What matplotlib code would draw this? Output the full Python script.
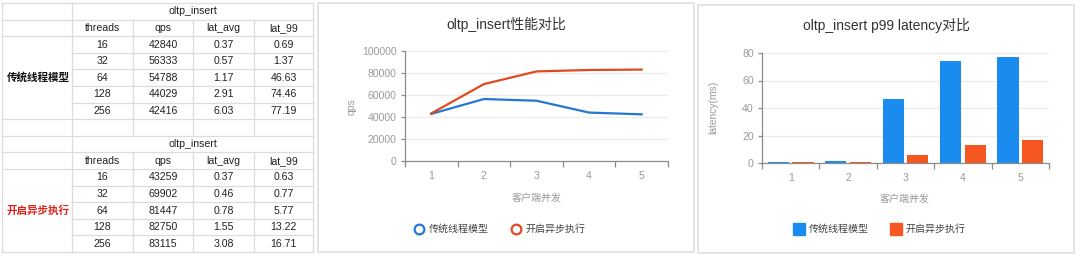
import numpy as np
import matplotlib
matplotlib.use('Agg')
import matplotlib.pyplot as plt
from matplotlib.lines import Line2D
from matplotlib.patches import Rectangle

plt.rcParams['font.family'] = ['Liberation Sans', 'Noto Sans CJK SC']

# data from the two sysbench runs
threads = [16, 32, 64, 128, 256]
columns = ['threads', 'qps', 'lat_avg', 'lat_99']
series_names = ['传统线程模型', '开启异步执行']
qps_old = [42840, 56333, 54788, 44029, 42416]
lat_avg_old = ['0.37', '0.57', '1.17', '2.91', '6.03']
lat_99_old = [0.69, 1.37, 46.63, 74.46, 77.19]
qps_async = [43259, 69902, 81447, 82750, 83115]
lat_avg_async = ['0.37', '0.46', '0.78', '1.55', '3.08']
lat_99_async = [0.63, 0.77, 5.77, 13.22, 16.71]
x_labels = ['1', '2', '3', '4', '5']

blue_line = '#2478d2'
red_line = '#df4a1f'
blue_bar = '#1a8cf0'
red_bar = '#f6561f'
grey_txt = '#9a9a9a'

W, H = 1080, 258
fig = plt.figure(figsize=(W / 100, H / 100), dpi=100)
bg = fig.add_axes([0, 0, 1, 1])
bg.set_xlim(0, W)
bg.set_ylim(H, 0)
bg.axis('off')

# ---- table on the left ----
grid = '#dcdcdc'
col_x = [2, 72, 133, 193, 254, 313]
top = 3
row_h = 16.6


def ry(i):
    return top + i * row_h


label_rows = [0, 1, 2, 7, 8, 9, 10, 15]
for i in range(16):
    y = ry(i)
    bg.plot([col_x[1], col_x[-1]], [y, y], color=grid, lw=0.9)
    if i in label_rows:
        bg.plot([col_x[0], col_x[1]], [y, y], color=grid, lw=0.9)
for x in (col_x[0], col_x[1], col_x[-1]):
    bg.plot([x, x], [ry(0), ry(15)], color=grid, lw=0.9)
for x in col_x[2:-1]:
    bg.plot([x, x], [ry(1), ry(8)], color=grid, lw=0.9)
    bg.plot([x, x], [ry(9), ry(15)], color=grid, lw=0.9)

blocks = [
    (0, series_names[0], '#111111', qps_old, lat_avg_old, lat_99_old),
    (8, series_names[1], '#e0201a', qps_async, lat_avg_async, lat_99_async),
]
centers = [(col_x[k] + col_x[k + 1]) / 2 for k in range(1, 5)]
fs = 7.6
for base, name, ncolor, qps, lavg, l99 in blocks:
    yc = lambda r: (ry(r) + ry(r + 1)) / 2
    bg.text((col_x[1] + col_x[-1]) / 2, yc(base), 'oltp_insert', ha='center', va='center', fontsize=fs, color='#222')
    for c, h in zip(centers, columns):
        bg.text(c, yc(base + 1), h, ha='center', va='center', fontsize=fs, color='#222')
    for j in range(5):
        vals = [str(threads[j]), str(qps[j]), lavg[j], '%.2f' % l99[j]]
        for c, v in zip(centers, vals):
            bg.text(c, yc(base + 2 + j), v, ha='center', va='center', fontsize=fs, color='#222')
    bg.text((col_x[0] + col_x[1]) / 2 + 1, (ry(base + 2) + ry(base + 7)) / 2, name,
            ha='center', va='center', fontsize=7.6, color=ncolor, fontweight='bold')

# panel borders
bg.add_patch(Rectangle((318, 3), 376, 249, fill=False, ec='#e2e2e2', lw=1.3))
bg.add_patch(Rectangle((698, 5), 376, 248, fill=False, ec='#e2e2e2', lw=1.3))


def style_axes(ax):
    for s in ('top', 'right'):
        ax.spines[s].set_visible(False)
    for s in ('left', 'bottom'):
        ax.spines[s].set_color('#8c8c8c')
        ax.spines[s].set_linewidth(0.9)
    ax.set_xlim(-0.5, 4.5)
    ax.set_xticks(np.arange(5), x_labels)
    ax.set_xticks(np.arange(-0.5, 5, 1), minor=True)
    ax.tick_params(axis='x', which='major', length=0, pad=7, labelsize=7.6, labelcolor=grey_txt)
    ax.tick_params(axis='x', which='minor', length=4, width=0.9, color='#8c8c8c')
    ax.tick_params(axis='y', length=3, width=0.9, color='#8c8c8c', pad=3, labelsize=7.6, labelcolor=grey_txt)
    ax.grid(axis='y', color='#ebebeb', lw=0.9)
    ax.set_axisbelow(True)
    ax.patch.set_alpha(0)


# ---- qps line chart ----
x = np.arange(5)
ax1 = fig.add_axes([405 / W, 1 - 161 / H, 263 / W, 110 / H])
ax1.plot(x, qps_old, color=blue_line, lw=1.6)
ax1.plot(x, qps_async, color=red_line, lw=1.6)
ax1.set_ylim(0, 100000)
ax1.set_yticks(range(0, 100001, 20000))
style_axes(ax1)
bg.text(506, 24, 'oltp_insert性能对比', ha='center', va='center', fontsize=10, color='#333')
bg.text(352, 107, 'qps', rotation=90, ha='center', va='center', fontsize=7.4, color=grey_txt)
bg.text(537, 198, '客户端并发', ha='center', va='center', fontsize=7.2, color=grey_txt)
h1 = [Line2D([], [], ls='none', marker='o', ms=7, mfc='white', mec=c, mew=1.6) for c in (blue_line, red_line)]
ax1.legend(h1, series_names, loc='center', bbox_to_anchor=(500 / W, 1 - 229 / H),
           bbox_transform=fig.transFigure, ncol=2, frameon=False, fontsize=7.2,
           handlelength=1.0, handletextpad=0.5, columnspacing=2.2, labelcolor='#444')

# ---- p99 latency bar chart ----
ax2 = fig.add_axes([762 / W, 1 - 163 / H, 287 / W, 110 / H])
bw = 0.37
ax2.bar(x - 0.215, lat_99_old, bw, color=blue_bar)
ax2.bar(x + 0.215, lat_99_async, bw, color=red_bar)
ax2.set_ylim(0, 80)
ax2.set_yticks(range(0, 81, 20))
style_axes(ax2)
bg.text(886, 25, 'oltp_insert p99 latency对比', ha='center', va='center', fontsize=10, color='#333')
bg.text(713, 107, 'latency(ms)', rotation=90, ha='center', va='center', fontsize=7.4, color=grey_txt)
bg.text(905, 199, '客户端并发', ha='center', va='center', fontsize=7.2, color=grey_txt)
h2 = [Line2D([], [], ls='none', marker='s', ms=8, mfc=c, mec=c) for c in (blue_bar, red_bar)]
ax2.legend(h2, series_names, loc='center', bbox_to_anchor=(880 / W, 1 - 229 / H),
           bbox_transform=fig.transFigure, ncol=2, frameon=False, fontsize=7.2,
           handlelength=1.0, handletextpad=0.5, columnspacing=2.2, labelcolor='#444')

fig.savefig('out.png', dpi=100)
